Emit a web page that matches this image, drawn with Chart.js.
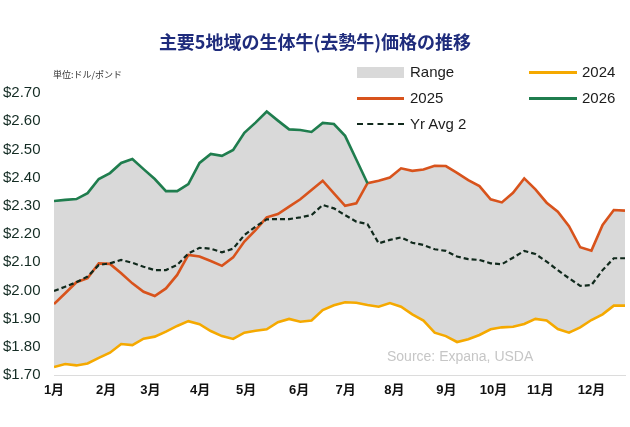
<!DOCTYPE html>
<html lang="ja">
<head>
<meta charset="UTF-8">
<title>主要5地域の生体牛(去勢牛)価格の推移</title>
<style>
  body { margin: 0; background: #fff; font-family: "Liberation Sans", "Noto Sans CJK JP", sans-serif; }
  #wrap { position: relative; width: 630px; height: 427px; }
  #title { position: absolute; top: 28px; left: 0; width: 630px; text-align: center;
           font: bold 18px "Noto Sans CJK JP", sans-serif; color: #1f2c7c; }
  #unit { position: absolute; top: 68px; left: 53px; font: 9px "Noto Sans CJK JP", sans-serif; color: #333; }
  .lg { position: absolute; font-size: 15px; color: #1c1c1c; line-height: 18px; }
  .sw { position: absolute; }
  #source { position: absolute; top: 348px; left: 387px; font-size: 14px; color: #c6c6c6; }
</style>
<script src="https://cdn.jsdelivr.net/npm/chart.js"></script>
</head>
<body>
<div id="wrap">
  <canvas id="c" width="630" height="427"></canvas>
  <div id="title">主要5地域の生体牛(去勢牛)価格の推移</div>
  <div id="unit">単位:ドル/ポンド</div>

  <div class="sw" style="left:357px;top:67px;width:47px;height:11px;background:#d9d9d9"></div>
  <div class="lg" style="left:410px;top:63px">Range</div>
  <div class="sw" style="left:529px;top:71px;width:48px;height:3px;background:#f5a900"></div>
  <div class="lg" style="left:582px;top:63px">2024</div>
  <div class="sw" style="left:357px;top:97px;width:47px;height:3px;background:#d8531c"></div>
  <div class="lg" style="left:410px;top:89px">2025</div>
  <div class="sw" style="left:529px;top:97px;width:48px;height:3px;background:#1f7d4e"></div>
  <div class="lg" style="left:582px;top:89px">2026</div>
  <div class="sw" style="left:357px;top:123px;width:47px;height:0;border-top:2px dashed #10291c"></div>
  <div class="lg" style="left:410px;top:115px">Yr Avg 2</div>

  <div id="source">Source: Expana, USDA</div>
</div>
<script>
// 週次データ (52週)
const y2024 = [1.728,1.739,1.734,1.741,1.761,1.779,1.810,1.806,1.829,1.836,1.854,1.874,1.891,1.880,1.856,1.838,1.828,
               1.850,1.857,1.862,1.887,1.899,1.889,1.893,1.930,1.947,1.958,1.956,1.948,1.942,1.955,1.942,1.915,1.893,
               1.850,1.838,1.817,1.827,1.842,1.862,1.869,1.871,1.881,1.899,1.893,1.863,1.850,1.869,1.895,1.915,1.946,1.946];
const y2025 = [1.952,1.990,2.029,2.043,2.096,2.094,2.061,2.025,1.995,1.980,2.007,2.055,2.126,2.120,2.104,2.087,2.117,
               2.173,2.214,2.259,2.271,2.297,2.323,2.356,2.389,2.344,2.300,2.309,2.380,2.389,2.400,2.433,2.424,2.429,
               2.442,2.441,2.417,2.391,2.370,2.323,2.312,2.346,2.397,2.358,2.311,2.279,2.228,2.153,2.141,2.232,2.285,2.283];
const y2026 = [2.317,2.321,2.324,2.345,2.395,2.416,2.452,2.466,2.430,2.395,2.352,2.352,2.377,2.452,2.484,2.477,2.498,
               2.559,2.595,2.634,2.602,2.571,2.569,2.562,2.594,2.590,2.548,2.464,2.380];
const yrAvg2 = [1.998,2.013,2.029,2.049,2.090,2.096,2.108,2.098,2.084,2.072,2.072,2.090,2.131,2.151,2.148,2.135,2.148,
                2.196,2.226,2.252,2.253,2.253,2.259,2.267,2.303,2.291,2.267,2.244,2.235,2.167,2.179,2.188,2.169,2.161,
                2.146,2.140,2.120,2.111,2.108,2.096,2.093,2.116,2.140,2.129,2.102,2.072,2.043,2.016,2.019,2.072,2.114,2.114];

// 月ラベルと週の位置
const monthLabels = ['1月','2月','3月','4月','5月','6月','7月','8月','9月','10月','11月','12月'];
const monthPos = [0, 4.65, 8.6, 13.05, 17.15, 21.9, 26.05, 30.4, 35.05, 39.25, 43.45, 48.0];
const yTicks = [1.7, 1.8, 1.9, 2.0, 2.1, 2.2, 2.3, 2.4, 2.5, 2.6, 2.7];

const pts = arr => arr.map((v, i) => ({ x: i, y: v }));
// レンジ上限 = 各週の2025/2026の高い方
const rangeHigh = y2025.map((v, i) => (y2026[i] != null ? Math.max(v, y2026[i]) : v));

new Chart(document.getElementById('c'), {
  type: 'line',
  data: {
    datasets: [
      { label: 'Range', data: pts(rangeHigh), borderWidth: 0, pointRadius: 0,
        backgroundColor: '#d9d9d9', fill: 1, order: 10 },
      { label: '2024', data: pts(y2024), borderColor: '#f5a900', borderWidth: 2.6, pointRadius: 0, fill: false, order: 4 },
      { label: '2025', data: pts(y2025), borderColor: '#d8531c', borderWidth: 2.6, pointRadius: 0, fill: false, order: 3 },
      { label: '2026', data: pts(y2026), borderColor: '#1f7d4e', borderWidth: 2.6, pointRadius: 0, fill: false, order: 2 },
      { label: 'Yr Avg 2', data: pts(yrAvg2), borderColor: '#10291c', borderWidth: 2.2, borderDash: [5, 3],
        pointRadius: 0, fill: false, order: 1 }
    ]
  },
  options: {
    responsive: false,
    animation: false,
    layout: { padding: { top: 93, right: 5, left: 3, bottom: 0 } },
    plugins: { legend: { display: false }, tooltip: { enabled: false } },
    scales: {
      x: {
        type: 'linear', min: 0, max: 51,
        grid: { display: false, drawTicks: false },
        border: { display: true, color: '#dcdcdc', width: 1 },
        afterBuildTicks: s => { s.ticks = monthPos.map(v => ({ value: v })); },
        afterFit: s => { s.height = 52; },
        ticks: {
          autoSkip: false, maxRotation: 0, padding: 8, color: '#111',
          font: { family: '"Liberation Sans", "Noto Sans CJK JP", sans-serif', size: 13, weight: 'bold' },
          callback: (v, i) => monthLabels[i]
        }
      },
      y: {
        min: 1.7, max: 2.7,
        grid: { display: false, drawTicks: false },
        border: { display: false },
        afterBuildTicks: s => { s.ticks = yTicks.map(v => ({ value: v })); },
        afterFit: s => { s.width = 51; },
        ticks: {
          crossAlign: 'far', padding: 0, color: '#142c24',
          font: { family: '"Liberation Sans", sans-serif', size: 15 },
          callback: v => '$' + v.toFixed(2)
        }
      }
    }
  }
});
</script>
</body>
</html>
